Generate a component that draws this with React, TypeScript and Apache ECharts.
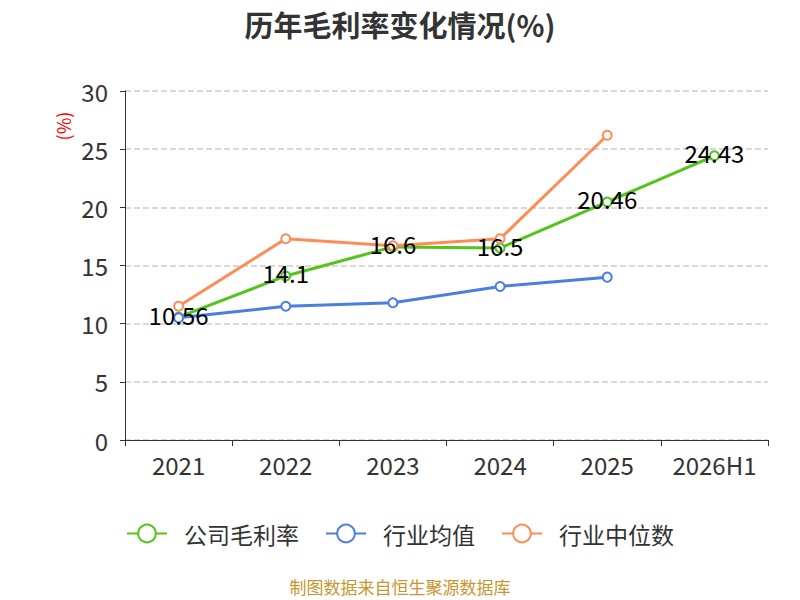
import React, { useEffect, useRef } from 'react';
import * as echarts from 'echarts';

const years = ['2021', '2022', '2023', '2024', '2025', '2026H1'];
const companyMargin = [10.56, 14.1, 16.6, 16.5, 20.46, 24.43];
const industryAvg = [10.5, 11.5, 11.8, 13.2, 14.0];
const industryMedian = [11.5, 17.3, 16.7, 17.3, 26.2];

const FONT = '"Noto Sans CJK SC", "Noto Sans", sans-serif';

const App: React.FC = () => {
    const chartRef = useRef<HTMLDivElement>(null);

    useEffect(() => {
        document.body.style.margin = '0';
        const chart = echarts.init(chartRef.current!, null, { renderer: 'svg' });
        const lineSeries = (name: string, data: number[], color: string, withLabel: boolean) => ({
            name,
            type: 'line',
            data,
            symbol: 'emptyCircle',
            symbolSize: 9,
            itemStyle: { color },
            lineStyle: { color, width: 3 },
            label: {
                show: withLabel,
                position: 'inside',
                offset: [0, -3],
                color: '#000',
                fontSize: 24,
                fontFamily: FONT,
            },
        });
        chart.setOption({
            animation: false,
            textStyle: { fontFamily: FONT },
            title: {
                text: '历年毛利率变化情况(%)',
                left: 'center',
                top: 4,
                textStyle: { fontSize: 29, fontWeight: 'bold', color: '#333', fontFamily: FONT },
            },
            grid: { left: 125, right: 32, top: 91, bottom: 160 },
            legend: {
                bottom: 50,
                left: 'center',
                itemWidth: 40,
                itemHeight: 22,
                itemGap: 26,
                textStyle: { fontSize: 23, color: '#333', fontFamily: FONT, padding: [0, 0, 0, 12] },
                data: ['公司毛利率', '行业均值', '行业中位数'],
            },
            xAxis: {
                type: 'category',
                data: years,
                axisLine: { lineStyle: { color: '#333' } },
                axisTick: { show: true, length: 6, lineStyle: { color: '#333' } },
                axisLabel: { fontSize: 24, color: '#333', margin: 12, interval: 0 },
            },
            yAxis: {
                type: 'value',
                min: 0,
                max: 30,
                interval: 5,
                axisLine: { show: true, lineStyle: { color: '#333' } },
                axisTick: { show: true, lineStyle: { color: '#333' } },
                axisLabel: { fontSize: 24, color: '#333', margin: 17 },
                splitLine: { lineStyle: { type: 'dashed', color: '#ccc', width: 1.5 } },
            },
            graphic: [
                {
                    type: 'text',
                    x: 63,
                    y: 126,
                    rotation: Math.PI / 2,
                    style: {
                        text: '(%)',
                        fill: '#f00',
                        fontSize: 18,
                        fontFamily: FONT,
                        align: 'center',
                        verticalAlign: 'middle',
                    },
                },
                {
                    type: 'text',
                    x: 400,
                    y: 586,
                    style: {
                        text: '制图数据来自恒生聚源数据库',
                        fill: '#c9962e',
                        fontSize: 17,
                        fontFamily: FONT,
                        align: 'center',
                        verticalAlign: 'middle',
                    },
                },
            ],
            series: [
                lineSeries('公司毛利率', companyMargin, '#52c41a', true),
                lineSeries('行业均值', industryAvg, '#4a7fe0', false),
                lineSeries('行业中位数', industryMedian, '#ff8c55', false),
            ],
        });
        return () => {
            chart.dispose();
        };
    }, []);

    return <div ref={chartRef} style={{ width: 800, height: 600 }} />;
};

export default App;
